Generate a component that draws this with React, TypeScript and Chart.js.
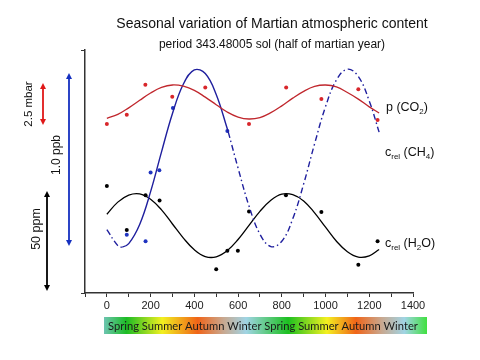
import { useEffect, useRef } from "react";
import { Chart, registerables } from "chart.js";

Chart.register(...registerables);

// ---- data (relative units, 0..100 of plot height) ----
const curveSols = [0, 50, 100, 150, 200, 250, 300, 350, 400, 450, 500, 550, 600, 650, 700, 750, 800, 850, 900, 950, 1000, 1050, 1100, 1150, 1200, 1245];
const co2Curve = [71.9, 73.5, 76.2, 79.3, 82.3, 84.6, 85.6, 85.1, 83.4, 80.6, 77.5, 74.5, 72.4, 71.6, 72.2, 74.2, 77.0, 80.2, 83.0, 85.0, 85.6, 84.8, 82.5, 79.8, 76.6, 74.1];
const h2oCurve = [32.4, 37.4, 40.3, 40.8, 38.6, 34.2, 28.4, 22.6, 17.8, 15.0, 14.9, 17.4, 22.0, 27.8, 33.6, 38.2, 40.7, 40.5, 37.9, 33.0, 27.1, 21.3, 17.0, 14.8, 15.3, 17.9];
const ch4CurveSols = [0, 50, 70, 100, 150, 200, 250, 300, 350, 400, 450, 500, 550, 555, 600, 650, 700, 750, 800, 850, 900, 950, 1000, 1050, 1100, 1150, 1200, 1245];
const ch4Curve = [26.1, 19.5, 18.9, 20.3, 28.2, 41.7, 58.1, 73.9, 86.0, 91.8, 90.3, 81.7, 67.8, 66.3, 51.4, 35.8, 24.2, 19.1, 21.3, 30.5, 44.9, 61.4, 76.7, 87.7, 92.1, 89.1, 79.0, 66.2];
const ch4SolidFrom = 70;
const ch4SolidTo = 555;

const co2PointSols = [0, 91, 176, 299, 450, 650, 820, 981, 1150, 1238];
const co2Points = [69.5, 73.4, 85.7, 80.8, 84.6, 69.5, 84.6, 79.8, 83.8, 71.2];
const ch4PointSols = [91, 177, 200, 240, 302, 551];
const ch4Points = [24.0, 21.3, 49.6, 50.5, 76.1, 66.7];
const h2oPointSols = [0, 91, 177, 241, 500, 551, 599, 650, 819, 981, 1150, 1238];
const h2oPoints = [44.0, 25.9, 40.2, 38.1, 9.8, 17.4, 17.4, 33.5, 40.2, 33.3, 11.6, 21.3];

const xTickLabels = [0, 200, 400, 600, 800, 1000, 1200, 1400];
const seasons = ["Spring", "Summer", "Autumn", "Winter", "Spring", "Summer", "Autumn", "Winter"];
const titleText = "Seasonal variation of Martian atmospheric content";
const subtitleText = "period 343.48005 sol (half of martian year)";
const scaleBarLabels = ["2.5 mbar", "1.0 ppb", "50 ppm"];

const RED = "#c0272d";
const RED_PT = "#d8262b";
const BLUE = "#1f1f9e";
const BLUE_PT = "#1f33c0";
const BLACK = "#000000";

const zip = (xs: number[], ys: number[]) => xs.map((x, i) => ({ x, y: ys[i] }));

const FONT = '"Liberation Sans", Arial, sans-serif';

function drawArrow(ctx: CanvasRenderingContext2D, x: number, y1: number, y2: number, color: string) {
  const h = 6;
  const w = 3;
  ctx.strokeStyle = color;
  ctx.fillStyle = color;
  ctx.lineWidth = 1.8;
  ctx.beginPath();
  ctx.moveTo(x, y1 + h - 1);
  ctx.lineTo(x, y2 - h + 1);
  ctx.stroke();
  ctx.beginPath();
  ctx.moveTo(x, y1);
  ctx.lineTo(x - w, y1 + h);
  ctx.lineTo(x + w, y1 + h);
  ctx.closePath();
  ctx.fill();
  ctx.beginPath();
  ctx.moveTo(x, y2);
  ctx.lineTo(x - w, y2 - h);
  ctx.lineTo(x + w, y2 - h);
  ctx.closePath();
  ctx.fill();
}

function drawRotated(ctx: CanvasRenderingContext2D, text: string, x: number, y: number, size: number) {
  ctx.save();
  ctx.translate(x, y);
  ctx.rotate(-Math.PI / 2);
  ctx.font = `${size}px ${FONT}`;
  ctx.fillStyle = "#111";
  ctx.textAlign = "center";
  ctx.textBaseline = "middle";
  ctx.fillText(text, 0, 0);
  ctx.restore();
}

type Part = { t: string; sub?: boolean };
function drawRich(ctx: CanvasRenderingContext2D, parts: Part[], x: number, y: number) {
  let cx = x;
  ctx.fillStyle = "#111";
  ctx.textAlign = "left";
  ctx.textBaseline = "middle";
  for (const p of parts) {
    ctx.font = p.sub ? `8px ${FONT}` : `12.5px ${FONT}`;
    ctx.fillText(p.t, cx, p.sub ? y + 4 : y);
    cx += ctx.measureText(p.t).width;
  }
}

const overlayPlugin = {
  id: "overlay",
  afterDraw(chart: any) {
    const ctx: CanvasRenderingContext2D = chart.ctx;
    ctx.save();
    // titles
    ctx.fillStyle = "#111";
    ctx.textAlign = "center";
    ctx.textBaseline = "middle";
    ctx.font = `14px ${FONT}`;
    ctx.fillText(titleText, 272, 24);
    ctx.font = `12px ${FONT}`;
    ctx.fillText(subtitleText, 272, 44.5);

    // scale bars
    drawArrow(ctx, 43, 83, 125, "#e01818");
    drawRotated(ctx, scaleBarLabels[0], 29, 104, 11.5);
    drawArrow(ctx, 69, 73, 246, "#1530c0");
    drawRotated(ctx, scaleBarLabels[1], 57, 155, 12);
    drawArrow(ctx, 47, 191, 291, "#000");
    drawRotated(ctx, scaleBarLabels[2], 37, 229, 12.5);

    // series labels
    drawRich(ctx, [{ t: "p (CO" }, { t: "2", sub: true }, { t: ")" }], 386, 108);
    drawRich(ctx, [{ t: "c" }, { t: "rel", sub: true }, { t: " (CH" }, { t: "4", sub: true }, { t: ")" }], 385, 153);
    drawRich(ctx, [{ t: "c" }, { t: "rel", sub: true }, { t: " (H" }, { t: "2", sub: true }, { t: "O)" }], 385, 244);

    // seasons bar
    const bx0 = 104, bx1 = 427, by0 = 317, by1 = 334;
    const g = ctx.createLinearGradient(bx0, 0, bx1, 0);
    g.addColorStop(0.0, "#6cc4b0");
    g.addColorStop(0.07, "#1cbc24");
    g.addColorStop(0.18, "#f2f020");
    g.addColorStop(0.29, "#f06418");
    g.addColorStop(0.37, "#c8a890");
    g.addColorStop(0.44, "#a0d4e4");
    g.addColorStop(0.57, "#1cc020");
    g.addColorStop(0.69, "#f4f020");
    g.addColorStop(0.78, "#f06418");
    g.addColorStop(0.86, "#c8a890");
    g.addColorStop(0.93, "#a0d4e4");
    g.addColorStop(1.0, "#40e040");
    ctx.fillStyle = g;
    ctx.fillRect(bx0, by0, bx1 - bx0, by1 - by0);
    const st = seasons.join(" ");
    ctx.font = `11px Lato, sans-serif`;
    const w = ctx.measureText(st).width;
    const fs = (11 * 310) / w;
    ctx.font = `${fs}px Lato, sans-serif`;
    ctx.fillStyle = "#1a1a1a";
    ctx.textAlign = "left";
    ctx.textBaseline = "middle";
    ctx.fillText(st, 108, 326);
    ctx.restore();
  },
};

export default function App() {
  const ref = useRef<HTMLCanvasElement>(null);
  useEffect(() => {
    if (!ref.current) return;
    const chart = new Chart(ref.current, {
      type: "scatter",
      data: {
        datasets: [
          {
            type: "line",
            data: zip(curveSols, co2Curve),
            borderColor: RED,
            borderWidth: 1.3,
            pointRadius: 0,
            tension: 0.4,
            fill: false,
          } as any,
          {
            type: "line",
            data: zip(ch4CurveSols, ch4Curve),
            borderColor: BLUE,
            borderWidth: 1.4,
            pointRadius: 0,
            tension: 0.4,
            fill: false,
            segment: {
              borderDash: (c: any) =>
                c.p0.parsed.x >= ch4SolidFrom && c.p1.parsed.x <= ch4SolidTo ? [] : [6, 3, 1.5, 3],
            },
          } as any,
          {
            type: "line",
            data: zip(curveSols, h2oCurve),
            borderColor: BLACK,
            borderWidth: 1.3,
            pointRadius: 0,
            tension: 0.4,
            fill: false,
          } as any,
          {
            data: zip(co2PointSols, co2Points),
            pointRadius: 2,
            pointBorderWidth: 0,
            backgroundColor: RED_PT,
            borderColor: RED_PT,
          },
          {
            data: zip(ch4PointSols, ch4Points),
            pointRadius: 2,
            pointBorderWidth: 0,
            backgroundColor: BLUE_PT,
            borderColor: BLUE_PT,
          },
          {
            data: zip(h2oPointSols, h2oPoints),
            pointRadius: 2,
            pointBorderWidth: 0,
            backgroundColor: BLACK,
            borderColor: BLACK,
          },
        ],
      },
      options: {
        responsive: false,
        animation: false,
        layout: { padding: { left: 85, right: 67, top: 50, bottom: 47 } },
        plugins: { legend: { display: false }, tooltip: { enabled: false } },
        scales: {
          x: {
            type: "linear",
            min: -100,
            max: 1400,
            afterFit: (s: any) => {
              s.height = 20;
            },
            ticks: {
              stepSize: 100,
              autoSkip: false,
              maxRotation: 0,
              padding: 2,
              color: "#222",
              font: { family: FONT, size: 11 },
              callback: (v: any) => (xTickLabels.includes(Number(v)) ? String(v) : ""),
            },
            grid: { drawOnChartArea: false, drawTicks: true, tickLength: 4, color: "#333", lineWidth: 1 },
            border: { display: true, color: "#333", width: 1.5 },
          },
          y: {
            type: "linear",
            min: 0,
            max: 100,
            afterFit: (s: any) => {
              s.width = 0;
            },
            afterBuildTicks: (s: any) => {
              s.ticks = [{ value: 0 }, { value: 100 }];
            },
            ticks: { display: false },
            grid: { drawOnChartArea: false, drawTicks: true, tickLength: 4, color: "#333", lineWidth: 1 },
            border: { display: true, color: "#333", width: 1.5 },
          },
        },
      },
      plugins: [overlayPlugin],
    });
    return () => chart.destroy();
  }, []);
  return (
    <div style={{ position: "absolute", left: 0, top: 0, width: 480, height: 360, background: "#fff" }}>
      <canvas ref={ref} width={480} height={360} style={{ display: "block" }} />
    </div>
  );
}
